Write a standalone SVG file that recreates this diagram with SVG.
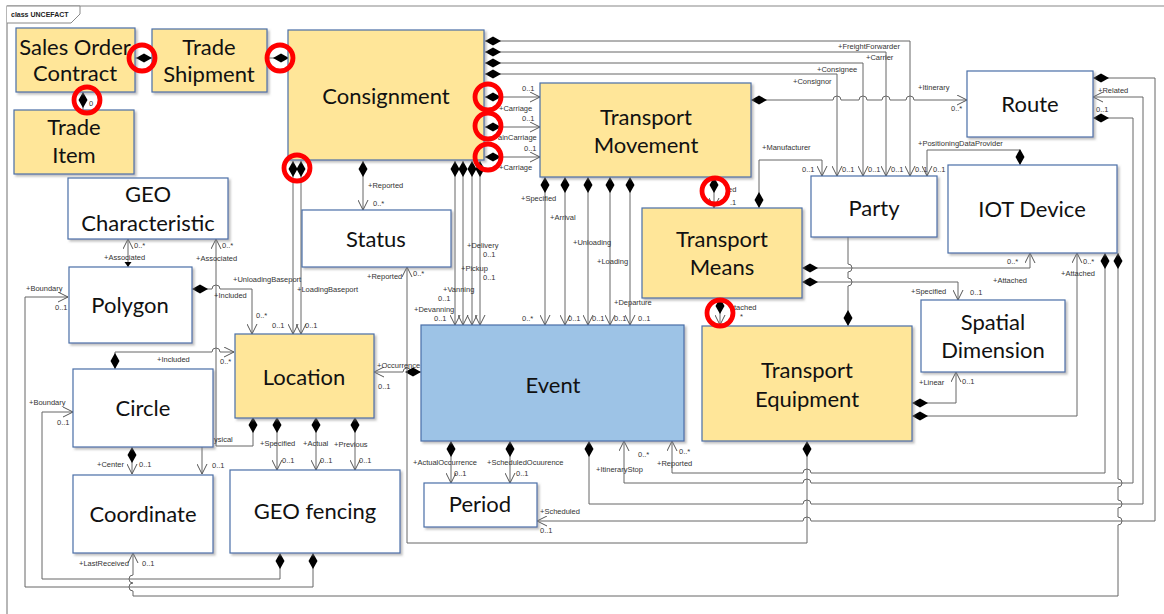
<svg xmlns="http://www.w3.org/2000/svg" width="1164" height="614" viewBox="0 0 1164 614">
<defs>
<filter id="sh" x="-5%" y="-5%" width="115%" height="120%"><feDropShadow dx="2" dy="2" stdDeviation="0.8" flood-color="#888" flood-opacity="0.55"/></filter>
<style>
.y{fill:#FFE699;stroke:#4A6FA8;stroke-width:1.2;filter:url(#sh)}
.w{fill:#fff;stroke:#4A6FA8;stroke-width:1.2;filter:url(#sh)}
.b{fill:#9DC3E6;stroke:#4A6FA8;stroke-width:1.2;filter:url(#sh)}
.t{font-family:Lato,"Open Sans",sans-serif;font-size:22px;fill:#111;text-anchor:middle}
.l{font-family:"Liberation Sans",Arial,sans-serif;font-size:7.5px;fill:#333}
.c{fill:none;stroke:#666;stroke-width:1}
.r{fill:none;stroke:#FF0000;stroke-width:4.8}
</style>
<marker id="d" markerUnits="userSpaceOnUse" markerWidth="16" markerHeight="10" viewBox="0 0 16 10" refX="0" refY="5" orient="auto"><path d="M0,5 L8,0.5 L16,5 L8,9.5Z" fill="#000"/></marker>
<marker id="a" markerUnits="userSpaceOnUse" markerWidth="11" markerHeight="11" viewBox="0 0 11 11" refX="10.5" refY="5.5" orient="auto"><path d="M0.5,0.5 L10.5,5.5 L0.5,10.5" fill="none" stroke="#555" stroke-width="1"/></marker>
</defs>
<rect width="1164" height="614" fill="#fff"/>
<g id="frame">
<path d="M7,614 V6 H1164" fill="none" stroke="#888" stroke-width="1.2"/>
<path d="M7,6 H80 V14 L71,23 H7" fill="#fff" stroke="#888" stroke-width="1"/>
<text x="11" y="17" font-family="Liberation Sans,Arial,sans-serif" font-size="7" font-weight="bold" fill="#222">class UNCEFACT</text>
</g>
<g id="connectors">
<path class="c" marker-start="url(#d)" d="M152,58 H134"/>
<path class="c" marker-start="url(#d)" d="M289,58 H268"/>
<path class="c" marker-start="url(#d)" d="M83,92 V110"/>
<path class="c" marker-start="url(#d)" marker-end="url(#a)" d="M485,41 H910 V176"/>
<path class="c" marker-start="url(#d)" marker-end="url(#a)" d="M485,52 H886 V176"/>
<path class="c" marker-start="url(#d)" marker-end="url(#a)" d="M485,63 H863 V176"/>
<path class="c" marker-start="url(#d)" marker-end="url(#a)" d="M485,74 H837 V176"/>
<path class="c" marker-start="url(#d)" marker-end="url(#a)" d="M751,100 H833 a4,4 0 0 1 8,0 H859 a4,4 0 0 1 8,0 H882 a4,4 0 0 1 8,0 H906 a4,4 0 0 1 8,0 H967"/>
<path class="c" marker-start="url(#d)" marker-end="url(#a)" d="M759,208 V160 H822 V176"/>
<path class="c" marker-start="url(#d)" marker-end="url(#a)" d="M1020,165 V150 H927 V176"/>
<path class="c" marker-start="url(#d)" marker-end="url(#a)" d="M485,97 H540"/>
<path class="c" marker-start="url(#d)" marker-end="url(#a)" d="M485,127 H540"/>
<path class="c" marker-start="url(#d)" marker-end="url(#a)" d="M485,157 H540"/>
<path class="c" marker-start="url(#d)" marker-end="url(#a)" d="M293,161 V334"/>
<path class="c" marker-start="url(#d)" marker-end="url(#a)" d="M301,161 V334"/>
<path class="c" marker-start="url(#d)" marker-end="url(#a)" d="M363,161 V210"/>
<path class="c" marker-start="url(#d)" marker-end="url(#a)" d="M455,161 V325"/>
<path class="c" marker-start="url(#d)" marker-end="url(#a)" d="M463,161 V325"/>
<path class="c" marker-start="url(#d)" marker-end="url(#a)" d="M472,161 V325"/>
<path class="c" marker-start="url(#d)" marker-end="url(#a)" d="M480,161 V325"/>
<path class="c" marker-start="url(#d)" marker-end="url(#a)" d="M545,177 V325"/>
<path class="c" marker-start="url(#d)" marker-end="url(#a)" d="M565,177 V325"/>
<path class="c" marker-start="url(#d)" marker-end="url(#a)" d="M588,177 V325"/>
<path class="c" marker-start="url(#d)" marker-end="url(#a)" d="M610,177 V325"/>
<path class="c" marker-start="url(#d)" marker-end="url(#a)" d="M630,177 V325"/>
<path class="c" marker-start="url(#d)" marker-end="url(#a)" d="M714,177 V208"/>
<path class="c" marker-start="url(#d)" marker-end="url(#a)" d="M720,298 V325"/>
<path class="c" marker-start="url(#d)" marker-end="url(#a)" d="M802,268 H1030 V253"/>
<path class="c" marker-start="url(#d)" marker-end="url(#a)" d="M802,282 H958 V300"/>
<path class="c" marker-start="url(#d)" d="M848,326 V286 a4,4 0 0 0 0,-8 V272 a4,4 0 0 0 0,-8 V237"/>
<path class="c" marker-start="url(#d)" marker-end="url(#a)" d="M912,403 H956 V372"/>
<path class="c" marker-start="url(#d)" marker-end="url(#a)" d="M912,416 H1077 V253"/>
<path class="c" marker-start="url(#d)" marker-end="url(#a)" d="M421,372 H411 a4,4 0 0 0 -8,0 H374"/>
<path class="c" marker-start="url(#d)" marker-end="url(#a)" d="M807,441 V543 H407 V267"/>
<path class="c" marker-start="url(#d)" marker-end="url(#a)" d="M1105,253 V473 H811 a4,4 0 0 0 -8,0 H672 V441"/>
<path class="c" marker-start="url(#d)" marker-end="url(#a)" d="M1093,118 H1133 V483 H811 a4,4 0 0 0 -8,0 H624 V441"/>
<path class="c" marker-start="url(#d)" marker-end="url(#a)" d="M589,441 V504 H803 a4,4 0 0 1 8,0 H1143 V97 H1093"/>
<path class="c" marker-start="url(#d)" marker-end="url(#a)" d="M1093,78 H1155 V521 H811 a4,4 0 0 0 -8,0 H537"/>
<path class="c" marker-start="url(#d)" marker-end="url(#a)" d="M1118,253 V479 a4,4 0 0 1 0,8 V500 a4,4 0 0 1 0,8 V517 a4,4 0 0 1 0,8 V596 H133 V591 a4,4 0 0 1 0,-8 a4,4 0 0 1 0,-8 V553"/>
<path class="c" marker-start="url(#d)" marker-end="url(#a)" d="M280,553 V579 H42 V412 H73"/>
<path class="c" marker-start="url(#d)" marker-end="url(#a)" d="M313,553 V587 H25 V297 H68"/>
<path class="c" marker-end="url(#a)" d="M128,267 V239"/>
<path d="M124.5,262 L131.5,262 L128,267Z" fill="#000"/>
<path class="c" marker-start="url(#d)" marker-end="url(#a)" d="M253,417 V446 H216 V239"/>
<path class="c" marker-start="url(#d)" marker-end="url(#a)" d="M192,289 H212 a4,4 0 0 1 8,0 H252 V334"/>
<path class="c" marker-start="url(#d)" marker-end="url(#a)" d="M115,369 V352 H212 a4,4 0 0 1 8,0 H234"/>
<path class="c" marker-start="url(#d)" marker-end="url(#a)" d="M132,447 V474"/>
<path class="c" marker-end="url(#a)" d="M202,447 V474"/>
<path class="c" marker-start="url(#d)" marker-end="url(#a)" d="M277,417 V470"/>
<path class="c" marker-start="url(#d)" marker-end="url(#a)" d="M316,417 V470"/>
<path class="c" marker-start="url(#d)" marker-end="url(#a)" d="M355,417 V470"/>
<path class="c" marker-start="url(#d)" marker-end="url(#a)" d="M451,441 V483"/>
<path class="c" marker-start="url(#d)" marker-end="url(#a)" d="M510,441 V483"/>
</g>
<g id="SalesOrderContract"><rect class="y" x="16" y="28" width="119" height="64"/><text class="t" x="75" y="55">Sales Order</text><text class="t" x="75" y="81">Contract</text></g>
<g id="TradeShipment"><rect class="y" x="152" y="29" width="115" height="63"/><text class="t" x="209" y="55">Trade</text><text class="t" x="209" y="82">Shipment</text></g>
<g id="TradeItem"><rect class="y" x="14" y="110" width="120" height="64"/><text class="t" x="74" y="135">Trade</text><text class="t" x="74" y="163">Item</text></g>
<g id="Consignment"><rect class="y" x="288" y="30" width="196" height="130"/><text class="t" x="386" y="104">Consignment</text></g>
<g id="TransportMovement"><rect class="y" x="540" y="83" width="211" height="94"/><text class="t" x="646" y="125">Transport</text><text class="t" x="646" y="153">Movement</text></g>
<g id="Route"><rect class="w" x="967" y="71" width="126" height="66"/><text class="t" x="1030" y="112">Route</text></g>
<g id="Party"><rect class="w" x="811" y="176" width="126" height="61"/><text class="t" x="874" y="216">Party</text></g>
<g id="IOTDevice"><rect class="w" x="948" y="165" width="169" height="88"/><text class="t" x="1032" y="217">IOT Device</text></g>
<g id="GEOCharacteristic"><rect class="w" x="68" y="178" width="160" height="61"/><text class="t" x="148" y="202">GEO</text><text class="t" x="148" y="231">Characteristic</text></g>
<g id="Status"><rect class="w" x="302" y="210" width="149" height="57"/><text class="t" x="376" y="247">Status</text></g>
<g id="TransportMeans"><rect class="y" x="642" y="208" width="160" height="90"/><text class="t" x="722" y="247">Transport</text><text class="t" x="722" y="275">Means</text></g>
<g id="Polygon"><rect class="w" x="69" y="267" width="123" height="76"/><text class="t" x="130" y="313">Polygon</text></g>
<g id="SpatialDimension"><rect class="w" x="921" y="300" width="144" height="72"/><text class="t" x="993" y="330">Spatial</text><text class="t" x="993" y="358">Dimension</text></g>
<g id="Location"><rect class="y" x="235" y="334" width="139" height="84"/><text class="t" x="304" y="385">Location</text></g>
<g id="Event"><rect class="b" x="421" y="325" width="263" height="116"/><text class="t" x="553" y="393">Event</text></g>
<g id="TransportEquipment"><rect class="y" x="702" y="326" width="210" height="115"/><text class="t" x="807" y="378">Transport</text><text class="t" x="807" y="407">Equipment</text></g>
<g id="Circle"><rect class="w" x="73" y="369" width="140" height="78"/><text class="t" x="143" y="416">Circle</text></g>
<g id="Coordinate"><rect class="w" x="73" y="475" width="140" height="78"/><text class="t" x="143" y="522">Coordinate</text></g>
<g id="GEOfencing"><rect class="w" x="230" y="470" width="170" height="83"/><text class="t" x="315" y="519">GEO fencing</text></g>
<g id="Period"><rect class="w" x="424" y="483" width="113" height="44"/><text class="t" x="480" y="512">Period</text></g>
<g id="labels">
<text class="l" x="89" y="106" font-size="6">0</text>
<text class="l" x="838" y="49">+FreightForwarder</text>
<text class="l" x="866" y="60">+Carrier</text>
<text class="l" x="817" y="72">+Consignee</text>
<text class="l" x="793" y="84">+Consignor</text>
<text class="l" x="802" y="172">0..1</text>
<text class="l" x="842" y="172">0..1</text>
<text class="l" x="868" y="172">0..1</text>
<text class="l" x="891" y="172">0..1</text>
<text class="l" x="915" y="172">0..1</text>
<text class="l" x="933" y="172">0..1</text>
<text class="l" x="762" y="150">+Manufacturer</text>
<text class="l" x="918" y="146">+PositioningDataProvider</text>
<text class="l" x="918" y="90">+Itinerary</text>
<text class="l" x="951" y="111">0..*</text>
<text class="l" x="1098" y="93">+Related</text>
<text class="l" x="1096" y="112">0..1</text>
<text class="l" x="522" y="91">0..1</text>
<text class="l" x="499" y="111">+Carriage</text>
<text class="l" x="522" y="121">0..1</text>
<text class="l" x="498" y="140">ainCarriage</text>
<text class="l" x="524" y="151">0..1</text>
<text class="l" x="499" y="170">+Carriage</text>
<text class="l" x="233" y="282">+UnloadingBaseport</text>
<text class="l" x="297" y="292">+LoadingBaseport</text>
<text class="l" x="272" y="328">0..1</text>
<text class="l" x="305" y="328">0..1</text>
<text class="l" x="368" y="188">+Reported</text>
<text class="l" x="373" y="206">0..*</text>
<text class="l" x="467" y="248">+Delivery</text>
<text class="l" x="483" y="257">0..1</text>
<text class="l" x="461" y="271">+Pickup</text>
<text class="l" x="483" y="280">0..1</text>
<text class="l" x="443" y="292">+Vanning</text>
<text class="l" x="438" y="301">0..1</text>
<text class="l" x="414" y="312">+Devanning</text>
<text class="l" x="434" y="321">0..1</text>
<text class="l" x="521" y="201">+Specified</text>
<text class="l" x="550" y="220">+Arrival</text>
<text class="l" x="573" y="245">+Unloading</text>
<text class="l" x="597" y="264">+Loading</text>
<text class="l" x="614" y="305">+Departure</text>
<text class="l" x="522" y="321">0..*</text>
<text class="l" x="568" y="321">0..1</text>
<text class="l" x="592" y="321">0..1</text>
<text class="l" x="614" y="321">0..1</text>
<text class="l" x="638" y="321">0..1</text>
<text class="l" x="728" y="192">ed</text>
<text class="l" x="730" y="205">.1</text>
<text class="l" x="734" y="310">tached</text>
<text class="l" x="740" y="319">*</text>
<text class="l" x="1007" y="264">0..*</text>
<text class="l" x="993" y="283">+Attached</text>
<text class="l" x="911" y="294">+Specified</text>
<text class="l" x="970" y="295">0..1</text>
<text class="l" x="1061" y="276">+Attached</text>
<text class="l" x="1083" y="264">0..*</text>
<text class="l" x="919" y="385">+Linear</text>
<text class="l" x="962" y="384">0..1</text>
<text class="l" x="377" y="368">+Occurrence</text>
<text class="l" x="378" y="389">0..1</text>
<text class="l" x="367" y="279">+Reported</text>
<text class="l" x="413" y="276">0..*</text>
<text class="l" x="413" y="465">+ActualOccurrence</text>
<text class="l" x="454" y="476">0..1</text>
<text class="l" x="487" y="465">+ScheduledOcuurence</text>
<text class="l" x="516" y="476">0..1</text>
<text class="l" x="540" y="514">+Scheduled</text>
<text class="l" x="540" y="533">0..1</text>
<text class="l" x="596" y="472">+ItineraryStop</text>
<text class="l" x="638" y="457">0..*</text>
<text class="l" x="657" y="466">+Reported</text>
<text class="l" x="679" y="454">0..*</text>
<text class="l" x="26" y="291">+Boundary</text>
<text class="l" x="55" y="310">0..1</text>
<text class="l" x="29" y="405">+Boundary</text>
<text class="l" x="57" y="425">0..1</text>
<text class="l" x="104" y="260">+Associated</text>
<text class="l" x="134" y="248">0..*</text>
<text class="l" x="196" y="261">+Associated</text>
<text class="l" x="222" y="248">0..*</text>
<text class="l" x="214" y="298">+Included</text>
<text class="l" x="256" y="318">0..*</text>
<text class="l" x="157" y="362">+Included</text>
<text class="l" x="220" y="364">0..*</text>
<text class="l" x="214" y="442">ysical</text>
<text class="l" x="97" y="467">+Center</text>
<text class="l" x="139" y="467">0..1</text>
<text class="l" x="212" y="468">0..1</text>
<text class="l" x="79" y="566">+LastReceived</text>
<text class="l" x="142" y="566">0..1</text>
<text class="l" x="260" y="446">+Specified</text>
<text class="l" x="282" y="463">0..1</text>
<text class="l" x="303" y="446">+Actual</text>
<text class="l" x="320" y="463">0..1</text>
<text class="l" x="334" y="447">+Previous</text>
<text class="l" x="359" y="463">0..1</text>
</g>
<g id="highlights">
<circle class="r" cx="142" cy="58" r="13"/>
<circle class="r" cx="280" cy="58" r="13"/>
<circle class="r" cx="87" cy="100" r="13"/>
<circle class="r" cx="297" cy="168" r="13"/>
<circle class="r" cx="488" cy="97" r="13"/>
<circle class="r" cx="488" cy="126" r="13"/>
<circle class="r" cx="488" cy="157" r="13"/>
<circle class="r" cx="715" cy="191" r="13"/>
<circle class="r" cx="720" cy="313" r="13"/>
</g>
</svg>
